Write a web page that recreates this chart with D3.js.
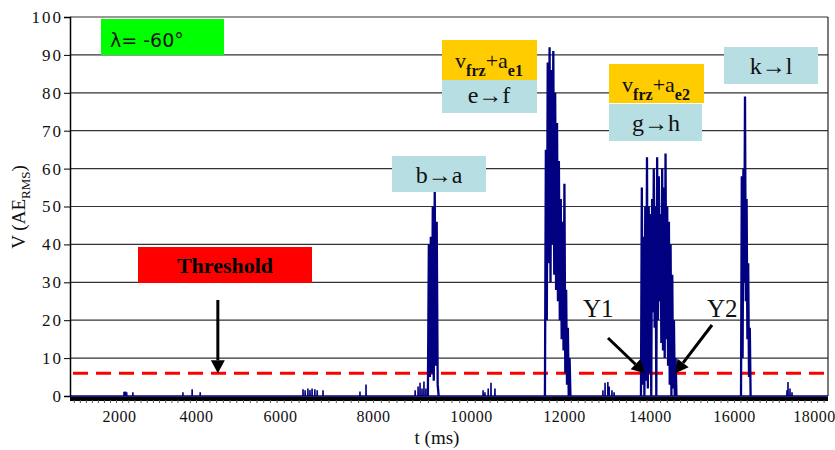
<!DOCTYPE html>
<html>
<head>
<meta charset="utf-8">
<script src="https://cdn.jsdelivr.net/npm/d3@7"></script>
<style>
  body { margin: 0; background: #fff; }
  svg { display: block; }
  text { font-family: 'Liberation Serif', 'Times New Roman', serif; }
</style>
</head>
<body>
<svg id="chart" width="835" height="450"></svg>
<script>
// ---- data ----
const xTickLabels = [2000, 4000, 6000, 8000, 10000, 12000, 14000, 16000, 18000]
const yTicks = [0, 10, 20, 30, 40, 50, 60, 70, 80, 90, 100]
const threshold = 6
const sampleMs = 20

// dense bursts: start time (ms) and sampled values every sampleMs
const burstNames = ['b→a', 'e→f', 'g→h', 'k→l']
const burstStarts = [9120, 11590, 13790, 16175]
const burstBA = [0, 40, 5, 42, 6, 50, 4, 54, 8, 46, 3, 0]
const burstEF = [0, 65, 20, 88, 35, 92, 30, 86, 40, 91, 32, 80, 28, 72, 25, 62, 20, 52, 15, 46, 12, 56, 6, 28, 3, 18, 0, 10, 0]
const burstGH = [0, 55, 3, 42, 0, 50, 4, 63, 2, 50, 6, 48, 0, 52, 22, 60, 18, 50, 0, 63, 20, 58, 25, 48, 14, 60, 12, 55, 10, 64, 15, 50, 8, 46, 3, 40, 0, 32, 2, 20, 0, 10, 0]
const burstKL = [0, 58, 10, 60, 30, 79, 25, 52, 15, 35, 5, 18, 0]

// isolated small spikes
const spikeTimes = [2130, 2170, 2200, 2360, 3660, 3900, 4100, 6495, 6540, 6600, 6645, 6690, 6750, 6800, 6925,
  7720, 7850, 8860, 8920, 8960, 9000, 9040, 9080, 10260, 10300, 10370, 10430, 10515,
  12905, 12955, 13020, 13050, 13115, 13165, 17325, 17350, 17400, 17450]
const spikeValues = [1.1, 1.2, 1.0, 1.0, 1.0, 1.8, 1.0, 1.8, 1.5, 2.0, 1.6, 2.0, 1.8, 1.5, 1.5,
  1.2, 3.0, 1.5, 2.5, 3.5, 2.0, 3.8, 2.0, 1.5, 1.0, 2.0, 3.5, 2.0,
  1.5, 3.5, 3.7, 2.5, 1.5, 1.0, 1.5, 3.7, 2.0, 1.0]

// ---- layout ----
const plot = { left: 70, right: 828, top: 17, bottom: 396 }
const xDomain = [700, 2000, 4000, 6000, 8000, 10000, 12000, 14000, 16000, 18000, 18350]
const xRangePx = [70, 119, 196, 280, 373, 471, 564, 650, 734, 814, 828]
const serif = "'Liberation Serif', 'Times New Roman', serif"
const lightBlue = '#B7DEE3', gold = '#FFCC00', navy = '#000080'

const svg = d3.select('#chart')
const x = d3.scaleLinear().domain(xDomain).range(xRangePx)
const y = d3.scaleLinear().domain([0, 100]).range([plot.bottom, plot.top])

// gridlines
svg.append('g').selectAll('line')
  .data(yTicks.filter(d => d > 0))
  .join('line')
  .attr('x1', plot.left).attr('x2', plot.right)
  .attr('y1', d => y(d)).attr('y2', d => y(d))
  .attr('stroke', '#333').attr('stroke-width', 1.2)

// right border
svg.append('line')
  .attr('x1', plot.right).attr('x2', plot.right)
  .attr('y1', plot.top).attr('y2', plot.bottom)
  .attr('stroke', '#222').attr('stroke-width', 1.2)

// y axis
const yAxis = svg.append('g')
  .attr('transform', `translate(${plot.left},0)`)
  .call(d3.axisLeft(y).tickValues(yTicks).tickSize(6).tickPadding(1).tickFormat(d3.format('d')))
  .attr('font-family', serif).attr('font-size', 17)
yAxis.select('.domain').attr('stroke', '#000').attr('stroke-width', 1.5)
yAxis.selectAll('line').attr('stroke', '#000')
yAxis.selectAll('text').attr('letter-spacing', 2).attr('fill', '#111')

// x axis band (dense category ticks)
svg.append('rect')
  .attr('x', plot.left).attr('y', plot.bottom + 0.5)
  .attr('width', plot.right - plot.left).attr('height', 4.5)
  .attr('fill', '#000')

const minorTicks = d3.range(800, 18350, 160)
const xMinor = svg.append('g')
  .attr('transform', `translate(0,${plot.bottom + 4})`)
  .call(d3.axisBottom(x).tickValues(minorTicks).tickSize(3).tickFormat(''))
xMinor.select('.domain').remove()
xMinor.selectAll('line').attr('stroke', '#555')

const xAxis = svg.append('g')
  .attr('transform', `translate(0,${plot.bottom})`)
  .call(d3.axisBottom(x).tickValues(xTickLabels).tickSize(0).tickPadding(15).tickFormat(d3.format('d')))
  .attr('font-family', serif).attr('font-size', 16)
xAxis.select('.domain').remove()
xAxis.selectAll('text').attr('letter-spacing', 0.5).attr('fill', '#111')

// threshold
svg.append('line')
  .attr('x1', plot.left + 3).attr('x2', plot.right)
  .attr('y1', y(threshold)).attr('y2', y(threshold))
  .attr('stroke', '#FF0000').attr('stroke-width', 3)
  .attr('stroke-dasharray', '15,8')

// signal: baseline + small spikes
const line = d3.line().x(d => x(d[0])).y(d => y(d[1]))
let pts = [[xDomain[0], 0], [xDomain[xDomain.length - 1], 0]]
spikeTimes.forEach((t, i) => {
  pts.push([t - 2, 0], [t, spikeValues[i]], [t + 2, 0])
})
pts.sort((a, b) => a[0] - b[0])
svg.append('path')
  .datum(pts)
  .attr('d', line)
  .attr('fill', 'none')
  .attr('stroke', navy)
  .attr('stroke-width', 1.6)

// signal: dense bursts
const bursts = [burstBA, burstEF, burstGH, burstKL]
bursts.forEach((vals, b) => {
  const bp = vals.map((v, i) => [burstStarts[b] + i * sampleMs, v])
  svg.append('path')
    .datum(bp)
    .attr('d', line)
    .attr('fill', 'none')
    .attr('stroke', navy)
    .attr('stroke-width', 2.3)
})

// annotation boxes
const boxes = [
  { x: 101, y: 19, w: 123, h: 36, fill: '#00FF00' },
  { x: 138, y: 247, w: 174, h: 36, fill: '#FF0000' },
  { x: 392, y: 156, w: 94, h: 36, fill: lightBlue },
  { x: 442, y: 40, w: 95, h: 40, fill: gold },
  { x: 442, y: 80, w: 95, h: 33, fill: lightBlue },
  { x: 609, y: 64, w: 95, h: 39, fill: gold },
  { x: 609, y: 104, w: 93, h: 37, fill: lightBlue },
  { x: 724, y: 47, w: 94, h: 37, fill: lightBlue }
]
svg.append('g').selectAll('rect')
  .data(boxes)
  .join('rect')
  .attr('x', d => d.x).attr('y', d => d.y)
  .attr('width', d => d.w).attr('height', d => d.h)
  .attr('fill', d => d.fill)

svg.append('text')
  .attr('x', 110).attr('y', 47)
  .style('font-family', "'DejaVu Sans', sans-serif").style('font-size', '19px')
  .attr('fill', '#111')
  .text('λ= -60°')

svg.append('text')
  .attr('x', 225).attr('y', 273)
  .attr('text-anchor', 'middle')
  .style('font-size', '22px').style('font-weight', 'bold')
  .attr('fill', '#000')
  .text('Threshold')

const arrowLabelPos = [[439, 183], [489, 103], [656, 131], [771, 74]]
burstNames.forEach((name, i) => {
  svg.append('text')
    .attr('x', arrowLabelPos[i][0]).attr('y', arrowLabelPos[i][1])
    .attr('text-anchor', 'middle')
    .style('font-size', '24px')
    .attr('fill', '#111')
    .text(name)
})

function freezeLabel(cx, base, sub) {
  const t = svg.append('text')
    .attr('x', cx).attr('y', base)
    .attr('text-anchor', 'middle')
    .style('font-size', '22px')
    .attr('fill', '#111')
  t.append('tspan').text('v')
  t.append('tspan').attr('dy', 8).style('font-size', '16px').style('font-weight', 'bold').text('frz')
  t.append('tspan').attr('dy', -8).text('+a')
  t.append('tspan').attr('dy', 8).style('font-size', '16px').style('font-weight', 'bold').text(sub)
}
freezeLabel(489, 68, 'e1')
freezeLabel(656, 92, 'e2')

svg.append('text').attr('x', 583).attr('y', 317)
  .style('font-size', '25px').attr('fill', '#111').text('Y1')
svg.append('text').attr('x', 707).attr('y', 317)
  .style('font-size', '25px').attr('fill', '#111').text('Y2')

// arrows
function arrow(x1, y1, x2, y2) {
  const dx = x2 - x1, dy = y2 - y1
  const len = Math.hypot(dx, dy)
  const ux = dx / len, uy = dy / len
  const headLen = 13, headW = 7
  const bx = x2 - ux * headLen, by = y2 - uy * headLen
  svg.append('line')
    .attr('x1', x1).attr('y1', y1).attr('x2', bx).attr('y2', by)
    .attr('stroke', '#000').attr('stroke-width', 3)
  svg.append('path')
    .attr('d', `M${x2},${y2}L${bx - uy * headW},${by + ux * headW}L${bx + uy * headW},${by - ux * headW}Z`)
    .attr('fill', '#000')
}
arrow(x(4520), 300, x(4520), y(threshold))
arrow(608, 338, x(13880), y(threshold))
arrow(712, 325, x(14600), y(threshold))

// axis titles
svg.append('text')
  .attr('x', 437).attr('y', 444)
  .attr('text-anchor', 'middle')
  .style('font-size', '19px')
  .attr('fill', '#111')
  .text('t (ms)')

const yt = svg.append('text')
  .attr('transform', 'translate(25,207) rotate(-90)')
  .attr('text-anchor', 'middle')
  .style('font-size', '19px')
  .attr('fill', '#111')
yt.append('tspan').text('V (AE')
yt.append('tspan').attr('dy', 5).style('font-size', '13px').text('RMS')
yt.append('tspan').attr('dy', -5).text(')')
</script>
</body>
</html>
